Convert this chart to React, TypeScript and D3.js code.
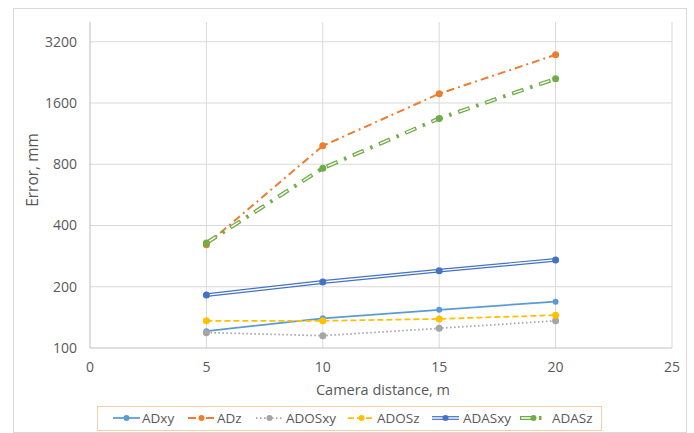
import React from "react";
import * as d3 from "d3";

const distances = [5, 10, 15, 20];
const ADxy = [121, 140, 154, 169];
const ADz = [322, 985, 1776, 2760];
const ADOSxy = [119, 115, 125, 136];
const ADOSz = [136, 136, 139, 145];
const ADASxy = [182, 211, 240, 271];
const ADASz = [328, 765, 1343, 2104];
const yTicks = [100, 200, 400, 800, 1600, 3200];
const xTicks = [0, 5, 10, 15, 20, 25];
const seriesNames = ["ADxy", "ADz", "ADOSxy", "ADOSz", "ADASxy", "ADASz"];

const W = 694;
const H = 433;
const FONT = "'Open Sans', sans-serif";
const TXT = "#595959";
const GRID = "#d9d9d9";

type Style = {
  color: string;
  width: number;
  dash?: string;
  cap?: "round" | "butt";
  double?: boolean;
  innerDash?: string;
  r: number;
};

const styles: Record<string, Style> = {
  ADxy: { color: "#5B9BD5", width: 1.75, r: 3 },
  ADz: { color: "#ED7D31", width: 2, dash: "8 4 2 4", r: 3.5 },
  ADOSxy: { color: "#A5A5A5", width: 1.75, dash: "1.5 2.5", r: 3.5 },
  ADOSz: { color: "#FFC000", width: 1.75, dash: "6 3", r: 3.5 },
  ADASxy: { color: "#4472C4", width: 3.8, double: true, r: 3.5 },
  ADASz: {
    color: "#70AD47",
    width: 4,
    dash: "12 7 2.5 7",
    cap: "butt",
    double: true,
    innerDash: "0 1.2 9.6 17.7",
    r: 3.5,
  },
};

const dataMap: Record<string, number[]> = { ADxy, ADz, ADOSxy, ADOSz, ADASxy, ADASz };

export default function App() {
  const x = d3.scaleLinear().domain([0, 25]).range([90, 672]);
  const y = d3.scaleLog().base(2).domain([100, 4000]).range([348, 22]);
  const line = d3
    .line<[number, number]>()
    .x((d) => x(d[0]))
    .y((d) => y(d[1]));

  const drawSeries = (name: string) => {
    const s = styles[name];
    const pts = distances.map((d, i) => [d, dataMap[name][i]] as [number, number]);
    const p = line(pts) || "";
    return (
      <g key={name}>
        <path
          d={p}
          fill="none"
          stroke={s.color}
          strokeWidth={s.width}
          strokeDasharray={s.dash}
          strokeLinecap={s.cap || "butt"}
          strokeLinejoin="round"
        />
        {s.double && (
          <path
            d={p}
            fill="none"
            stroke="#ffffff"
            strokeWidth={1.4}
            strokeDasharray={s.innerDash}
            strokeLinejoin="round"
          />
        )}
        {pts.map((pt, i) => (
          <circle key={i} cx={x(pt[0])} cy={y(pt[1])} r={s.r} fill={s.color} />
        ))}
      </g>
    );
  };

  const legendItems = [
    { name: "ADxy", x1: 113, tx: 142 },
    { name: "ADz", x1: 188, tx: 217 },
    { name: "ADOSxy", x1: 256, tx: 286 },
    { name: "ADOSz", x1: 348, tx: 377 },
    { name: "ADASxy", x1: 432, tx: 463 },
    { name: "ADASz", x1: 520, tx: 552 },
  ];
  const ly = 418;

  return (
    <svg
      width={W}
      height={H}
      style={{ position: "absolute", left: 0, top: 0, background: "#fff" }}
      fontFamily={FONT}
    >
      <rect x={0} y={0} width={W} height={H} fill="#fff" />
      <rect x={13.5} y={8.5} width={673} height={424} fill="none" stroke={GRID} strokeWidth={1} />
      {yTicks.slice(1).map((t) => (
        <line key={"gy" + t} x1={90} x2={672} y1={y(t)} y2={y(t)} stroke={GRID} strokeWidth={1} />
      ))}
      {xTicks.slice(1).map((t) => (
        <line key={"gx" + t} x1={x(t)} x2={x(t)} y1={22} y2={348} stroke={GRID} strokeWidth={1} />
      ))}
      <line x1={90} x2={90} y1={22} y2={348} stroke="#bfbfbf" strokeWidth={1} />
      <line x1={90} x2={672} y1={348} y2={348} stroke="#bfbfbf" strokeWidth={1} />
      {yTicks.map((t) => (
        <text key={"ty" + t} x={77} y={y(t)} dy="0.35em" textAnchor="end" fontSize={14} fill={TXT}>
          {t}
        </text>
      ))}
      {xTicks.map((t) => (
        <text key={"tx" + t} x={x(t)} y={372} textAnchor="middle" fontSize={14} fill={TXT}>
          {t}
        </text>
      ))}
      <text
        transform="translate(38,170) rotate(-90)"
        textAnchor="middle"
        fontSize={15.5}
        fill={TXT}
      >
        Error, mm
      </text>
      <text x={383} y={395} textAnchor="middle" fontSize={14.5} fill={TXT}>
        Camera distance, m
      </text>
      {seriesNames.map((n) => drawSeries(n))}
      <rect x={97.5} y={406.5} width={504} height={24} fill="#fff" stroke="#F8CBAD" strokeWidth={1} />
      {legendItems.map((it) => {
        const s = styles[it.name];
        const x2 = it.x1 + 27;
        return (
          <g key={"lg" + it.name}>
            <line
              x1={it.x1}
              x2={x2}
              y1={ly}
              y2={ly}
              stroke={s.color}
              strokeWidth={s.width}
              strokeDasharray={s.dash}
            />
            {s.double && (
              <line
                x1={it.x1}
                x2={x2}
                y1={ly}
                y2={ly}
                stroke="#fff"
                strokeWidth={1.4}
                strokeDasharray={s.innerDash}
              />
            )}
            <circle cx={(it.x1 + x2) / 2} cy={ly} r={3} fill={s.color} />
            <text x={it.tx} y={ly} dy="0.35em" fontSize={13.5} fill={TXT}>
              {it.name}
            </text>
          </g>
        );
      })}
    </svg>
  );
}
